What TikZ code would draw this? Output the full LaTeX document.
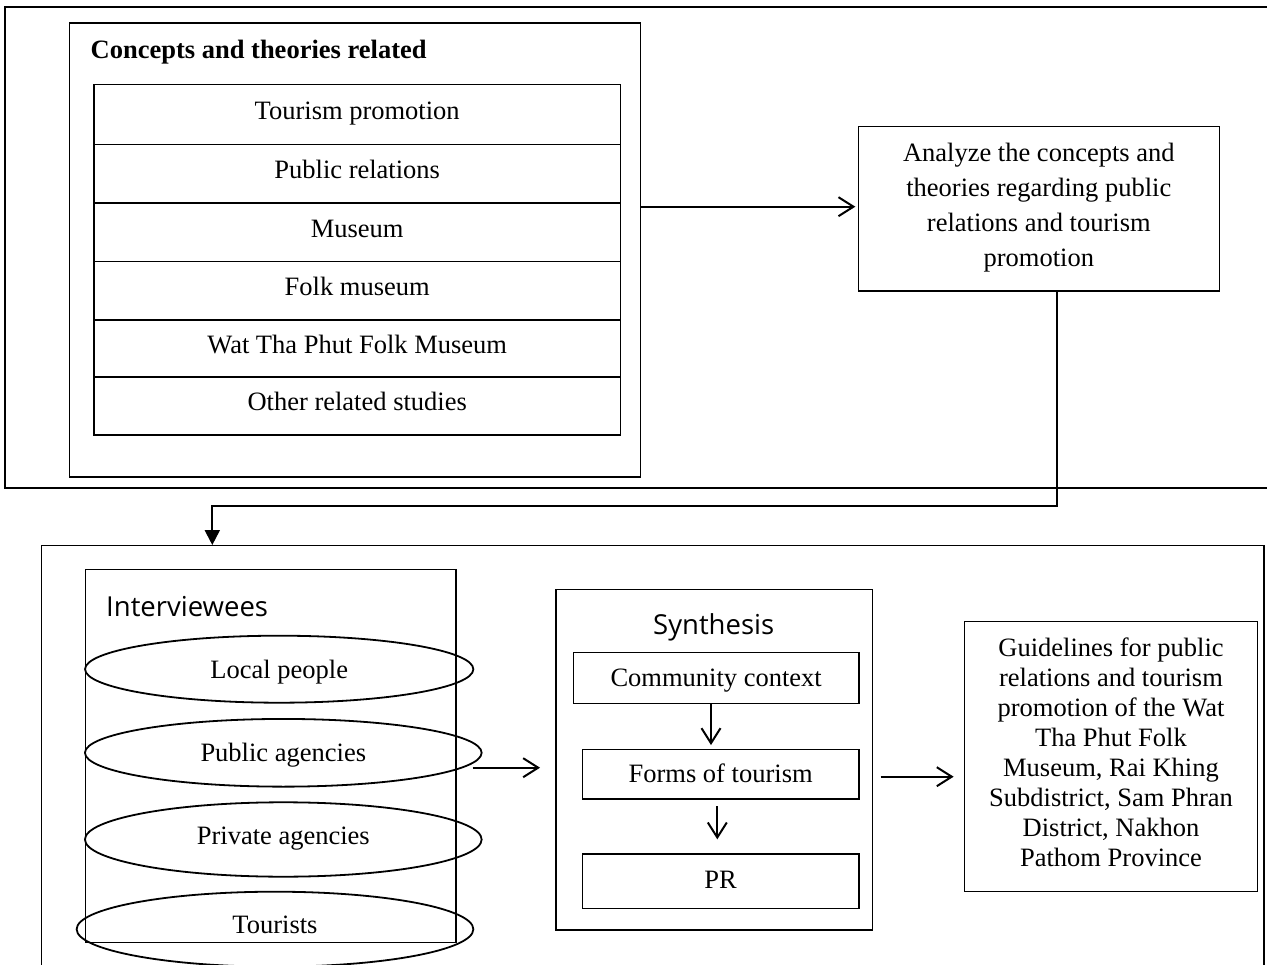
\documentclass[tikz,border=0pt]{standalone}
\usepackage{fontspec}
\setmainfont{Liberation Serif}
\newfontfamily\sansf{Open Sans}
\usetikzlibrary{arrows.meta,shapes.geometric,calc}
\begin{document}
\begin{tikzpicture}[x=1pt,y=-1pt,
  tx/.style={font=\fontsize{26.5}{35}\selectfont},
  box/.style={draw, line width=1.3pt, inner sep=0pt, tx},
  row/.style={box, minimum width=526.4pt, text height=17.5pt, text depth=7.5pt},
  ell/.style={draw, ellipse, line width=1.8pt, inner sep=0pt, tx, text height=18pt},
  conn/.style={line width=2pt},
  arr/.style={conn, -{Straight Barb[length=15pt,width=19pt]}},
  farr/.style={conn, -{Triangle[length=15pt,width=15pt]}},
  stitle/.style={font=\sansf\fontsize{27.5}{33}\selectfont, inner sep=0pt}
]
\useasboundingbox (0,0) rectangle (1267,965);

% containers
\node[box, minimum width=1265pt, minimum height=481pt] (top) at (637.5,247.5) {};
\node[box, minimum width=1222.3pt, minimum height=429.3pt] (bot) at (652.85,760.35) {};

% concepts
\node[box, minimum width=571pt, minimum height=454pt] (concepts) at (355,250) {};
\node[tx, anchor=base west, inner sep=0pt, font=\bfseries\fontsize{26.5}{35}\selectfont] (head) at (90.5,58.3) {Concepts and theories related};
\node[row, minimum height=60pt]   (r1) at (357.2,114.3) {Tourism promotion};
\node[row, minimum height=58.7pt] (r2) at (357.2,173.65) {Public relations};
\node[row, minimum height=58.7pt] (r3) at (357.2,232.35) {Museum};
\node[row, minimum height=58.3pt] (r4) at (357.2,290.85) {Folk museum};
\node[row, minimum height=57pt]   (r5) at (357.2,348.5) {Wat Tha Phut Folk Museum};
\node[row, minimum height=58pt]   (r6) at (357.2,406) {Other related studies};

% analyze
\node[box, minimum width=361pt, minimum height=164.3pt, align=center,
      text height=115.7pt, text depth=0pt] (an) at (1038.8,208.85)
  {Analyze the concepts and\\theories regarding public\\relations and tourism\\promotion};

% interviewees
\node[box, minimum width=370.7pt, minimum height=373.4pt] (intv) at (270.65,756) {};
\node[stitle, anchor=base west] (intvt) at (106,616.7) {Interviewees};
\node[ell, minimum width=388.3pt, minimum height=67pt, text depth=0pt] (e1) at (279.2,669.2) {Local people};
\node[ell, minimum width=396.7pt, minimum height=67.7pt, text depth=1.6pt] (e2) at (283.3,752.8) {Public agencies};
\node[ell, minimum width=396.7pt, minimum height=74.4pt, text depth=8.4pt] (e3) at (283.3,839.5) {Private agencies};
\node[ell, minimum width=396.7pt, minimum height=75pt, text depth=9.8pt] (e4) at (275,929.2) {Tourists};

% synthesis
\node[box, minimum width=316.3pt, minimum height=340.7pt] (syn) at (714.15,759.65) {};
\node[stitle, anchor=base] (synt) at (713.7,634.3) {Synthesis};
\node[box, minimum width=285.7pt, minimum height=50.6pt, text height=18pt, text depth=2pt] (cc) at (716.15,678) {Community context};
\node[box, minimum width=276.7pt, minimum height=49.7pt, text height=18pt, text depth=0.9pt] (forms) at (720.65,774.15) {Forms of tourism};
\node[box, minimum width=276.7pt, minimum height=54.3pt, text height=17.5pt, text depth=3.2pt] (pr) at (720.65,881.15) {PR};

% guidelines
\node[box, minimum width=293.4pt, minimum height=270pt, align=center,
      font=\fontsize{26.5}{30}\selectfont, text height=220pt, text depth=0pt] (gd) at (1111,756.7)
  {Guidelines for public\\relations and tourism\\promotion of the Wat\\Tha Phut Folk\\Museum, Rai Khing\\Subdistrict, Sam Phran\\District, Nakhon\\Pathom Province};

% connectors
\coordinate (ca) at (640.5,206.7);
\draw[arr, shorten >=2.3pt] (ca) -- (ca -| an.west);

\coordinate (c1) at (212.3,505.7);
\draw[farr] ([xshift=17.9pt]an.south) |- (c1) -- (c1 |- bot.north);

\coordinate (pa) at (472.7,767.7);
\draw[arr, shorten >=15.3pt] (pa) -- (pa -| syn.west);

\coordinate (sg) at (872.3,776.7);
\draw[arr, shorten <=8.4pt, shorten >=10pt] (sg) -- (sg -| gd.west);

\draw[arr, shorten >=3.6pt] ([xshift=-5.15pt]cc.south) -- ([xshift=-5.15pt]cc.south |- forms.north);
\draw[arr, shorten <=6.7pt, shorten >=14pt] ([xshift=-3.35pt]forms.south) -- ([xshift=-3.35pt]forms.south |- pr.north);
\end{tikzpicture}
\end{document}
